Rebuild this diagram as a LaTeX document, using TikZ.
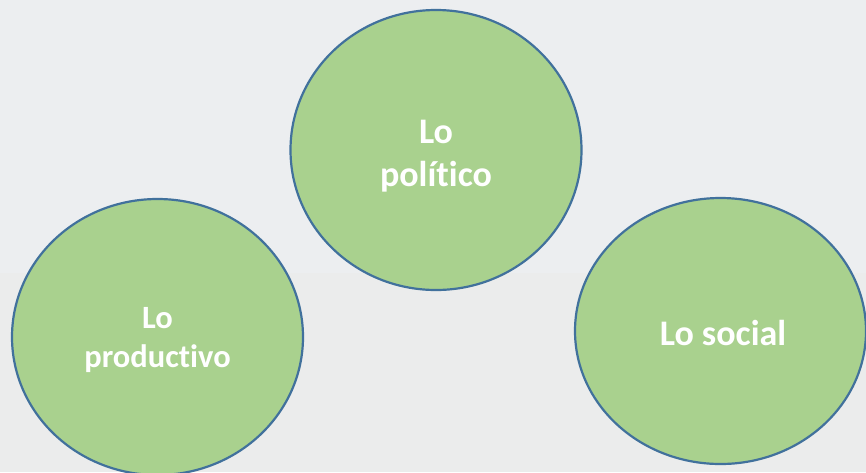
\documentclass[tikz,border=0pt]{standalone}
\usepackage{fontspec}
\setmainfont{Carlito}[RawFeature={-liga;-clig}]
\usetikzlibrary{shapes.geometric}
\definecolor{bgtop}{HTML}{ECEEF0}
\definecolor{bgbot}{HTML}{EBECEC}
\definecolor{leaf}{HTML}{A9D18E}
\definecolor{rim}{HTML}{41719C}
\tikzset{
  ell/.style={ellipse, draw=rim, line width=2.2pt, fill=leaf, inner sep=0pt},
  lbl/.style={text=white, font=\bfseries, align=center, inner sep=0pt},
}
\begin{document}
\begin{tikzpicture}[x=1pt,y=-1pt]
\useasboundingbox (0,0) rectangle (866,472);
\fill[bgtop] (0,0) rectangle (866,273);
\fill[bgbot] (0,273) rectangle (866,472);
\node[ell, minimum width=291pt, minimum height=280pt] (pol) at (436,150) {};
\node[ell, minimum width=291pt, minimum height=276pt] (prod) at (157.5,337) {};
\node[ell, minimum width=291pt, minimum height=266pt] (soc) at (720.5,331) {};
\node[lbl, font=\fontsize{36}{43}\selectfont\bfseries] (tpol) at (436,156) {Lo\\político};
\node[lbl, font=\fontsize{32.5}{39}\selectfont\bfseries] (tprod) at (157.5,340.5) {Lo\\productivo};
\node[lbl, font=\fontsize{36}{43}\selectfont\bfseries, anchor=base] (tsoc) at (723,345) {Lo social};
\end{tikzpicture}
\end{document}
